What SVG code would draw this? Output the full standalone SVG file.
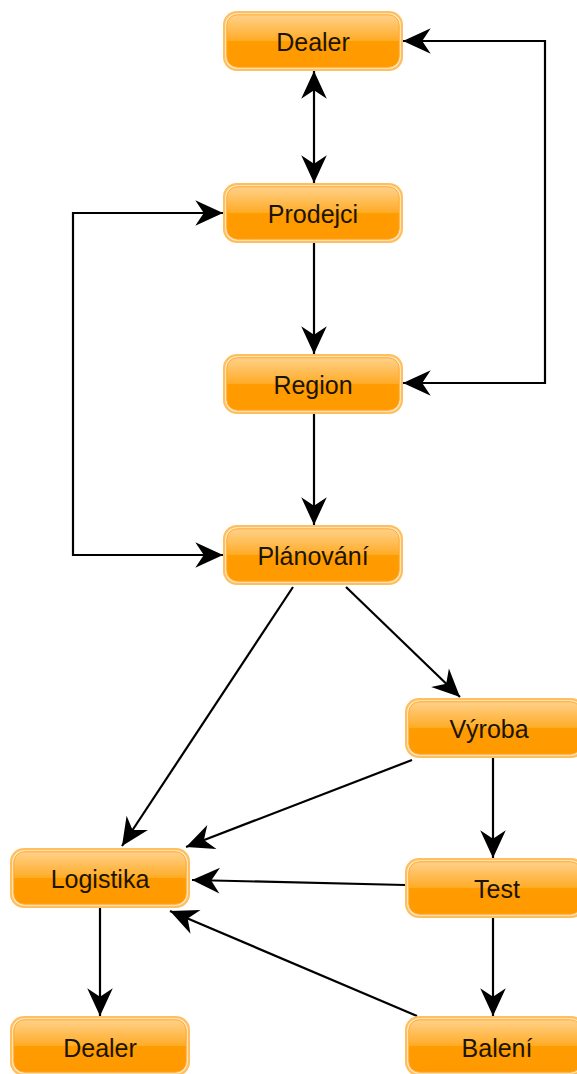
<svg xmlns="http://www.w3.org/2000/svg" width="577" height="1074" viewBox="0 0 577 1074">
  <style>
    .edge { fill: none; stroke: #000; stroke-width: 2.2; }
    .halo { fill: #ffbf5e; }
    .gap { fill: #ffeacc; }
    .body { fill: url(#orange); stroke: #ffa82a; stroke-width: 1; }
    .label { font-family: "Liberation Sans", Arial, sans-serif; font-size: 25px; fill: #1a1400; text-anchor: middle; }
  </style>
  <defs>
    <linearGradient id="orange" x1="0" y1="0" x2="0" y2="1">
      <stop offset="0" stop-color="#ffd18a"/>
      <stop offset="0.49" stop-color="#ffac28"/>
      <stop offset="0.5" stop-color="#ff9c00"/>
      <stop offset="1" stop-color="#ff9900"/>
    </linearGradient>
    <marker id="arrow" markerUnits="userSpaceOnUse" markerWidth="32" markerHeight="32" viewBox="-28 -14 30 28" refX="0" refY="0" orient="auto-start-reverse">
      <path d="M0,0 L-26,-12 L-18,0 L-26,12 Z" fill="#000"/>
    </marker>
    <g id="box">
      <rect class="halo" x="0" y="0" width="180" height="60" rx="14"/>
      <rect class="gap" x="2.2" y="2.2" width="175.6" height="55.6" rx="12"/>
      <rect class="body" x="3.8" y="3.8" width="172.4" height="52.4" rx="10.5"/>
    </g>
  </defs>

  <g id="connectors">
    <path class="edge" d="M314,71 L314,183" marker-start="url(#arrow)" marker-end="url(#arrow)"/>
    <path class="edge" d="M314,243 L314,354" marker-end="url(#arrow)"/>
    <path class="edge" d="M314,414 L314,525" marker-end="url(#arrow)"/>
    <path class="edge" d="M403,41 L545,41 L545,383 L403,383" marker-start="url(#arrow)" marker-end="url(#arrow)"/>
    <path class="edge" d="M223,213 L73,213 L73,555 L223,555" marker-start="url(#arrow)" marker-end="url(#arrow)"/>
    <path class="edge" d="M346,587 L460,697" marker-end="url(#arrow)"/>
    <path class="edge" d="M293,587 L122,846" marker-end="url(#arrow)"/>
    <path class="edge" d="M412,760 L186,847" marker-end="url(#arrow)"/>
    <path class="edge" d="M493,758 L493,858" marker-end="url(#arrow)"/>
    <path class="edge" d="M405,885 L192,880" marker-end="url(#arrow)"/>
    <path class="edge" d="M493,918 L493,1016" marker-end="url(#arrow)"/>
    <path class="edge" d="M417,1016 L170,911" marker-end="url(#arrow)"/>
    <path class="edge" d="M100,908 L100,1016" marker-end="url(#arrow)"/>
  </g>

  <g id="dealer-top"><use href="#box" x="223" y="11"/><text class="label" x="313" y="51">Dealer</text></g>
  <g id="prodejci"><use href="#box" x="223" y="183"/><text class="label" x="313" y="223">Prodejci</text></g>
  <g id="region"><use href="#box" x="223" y="354"/><text class="label" x="313" y="394">Region</text></g>
  <g id="planovani"><use href="#box" x="223" y="525"/><text class="label" x="313" y="565">Plánování</text></g>
  <g id="vyroba"><use href="#box" x="405" y="698"/><text class="label" x="489" y="738">Výroba</text></g>
  <g id="logistika"><use href="#box" x="10" y="848"/><text class="label" x="100" y="888">Logistika</text></g>
  <g id="test"><use href="#box" x="405" y="858"/><text class="label" x="497" y="898">Test</text></g>
  <g id="dealer-bottom"><use href="#box" x="10" y="1016"/><text class="label" x="100" y="1057">Dealer</text></g>
  <g id="baleni"><use href="#box" x="405" y="1016"/><text class="label" x="497" y="1057">Balení</text></g>
</svg>
